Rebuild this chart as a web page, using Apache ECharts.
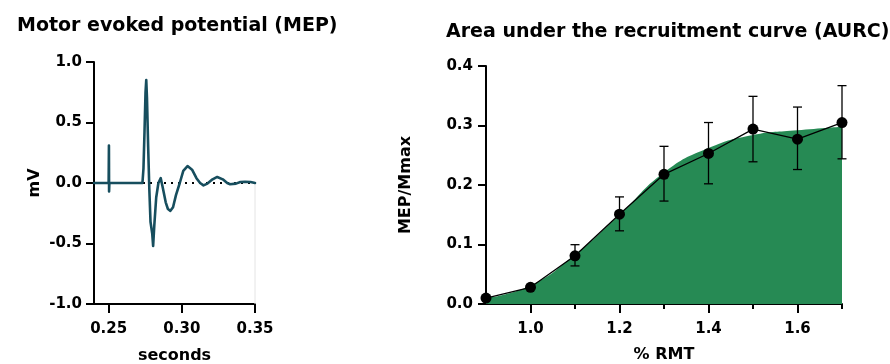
<!DOCTYPE html>
<html>
<head>
<meta charset="utf-8">
<script src="https://cdn.jsdelivr.net/npm/echarts@6/dist/echarts.min.js"></script>
<style>
html,body{margin:0;padding:0;background:#fff;}
#chart{width:890px;height:364px;}
</style>
</head>
<body>
<div id="chart"></div>
<script>
// ---- Left panel: MEP trace ----
const mepTime = [0.2400, 0.2500, 0.2502, 0.2503, 0.2505, 0.2600, 0.2731, 0.2738, 0.2745, 0.2752, 0.2757, 0.2762, 0.2770, 0.2778, 0.2786, 0.2793, 0.2798, 0.2804, 0.2812, 0.2825, 0.2840, 0.2856, 0.2870, 0.2890, 0.2905, 0.2922, 0.2940, 0.2960, 0.2986, 0.3010, 0.3039, 0.3070, 0.3100, 0.3125, 0.3148, 0.3175, 0.3210, 0.3242, 0.3280, 0.3310, 0.3330, 0.3370, 0.3400, 0.3432, 0.3470, 0.3500];
const mepVolt = [0.00, 0.00, 0.31, -0.07, 0.00, 0.00, 0.00, 0.12, 0.42, 0.75, 0.85, 0.70, 0.30, -0.05, -0.32, -0.33, -0.42, -0.52, -0.35, -0.12, 0.00, 0.04, -0.04, -0.16, -0.215, -0.23, -0.20, -0.10, 0.00, 0.10, 0.14, 0.11, 0.04, 0.00, -0.02, -0.005, 0.03, 0.05, 0.03, 0.00, -0.01, -0.005, 0.008, 0.01, 0.008, 0.00];
const mepXTicks = [0.25, 0.30, 0.35];

// ---- Right panel: recruitment curve ----
const rmt = [0.9, 1.0, 1.1, 1.2, 1.3, 1.4, 1.5, 1.6, 1.7];
const mepMean = [0.010, 0.028, 0.081, 0.151, 0.218, 0.253, 0.294, 0.277, 0.305];
const errLow = [0.010, 0.028, 0.064, 0.123, 0.173, 0.202, 0.239, 0.226, 0.244];
const errHigh = [0.010, 0.028, 0.0997, 0.180, 0.265, 0.305, 0.349, 0.331, 0.367];
const fitCurve = [0.010, 0.031, 0.083, 0.150, 0.221, 0.262, 0.284, 0.292, 0.298];
const rmtLabelTicks = [1.0, 1.2, 1.4, 1.6];
const rmtMinorTicks = [1.1, 1.3, 1.5, 1.7];

const FONT = 'DejaVu Sans';
const labelStyle = {color:'#000', fontFamily:FONT, fontWeight:'bold', fontSize:15};
const nameStyle = {color:'#000', fontFamily:FONT, fontWeight:'bold', fontSize:16};
const axisLine = {show:true, onZero:false, lineStyle:{color:'#000', width:2}};

const chart = echarts.init(document.getElementById('chart'), null, {renderer:'canvas'});

const option = {
  animation:false,
  backgroundColor:'#fff',
  title:[
    {text:'Motor evoked potential (MEP)', left:12, top:12, textStyle:{color:'#000', fontFamily:FONT, fontWeight:'bold', fontSize:19}},
    {text:'Area under the recruitment curve (AURC)', left:441, top:18, textStyle:{color:'#000', fontFamily:FONT, fontWeight:'bold', fontSize:19}}
  ],
  grid:[
    {left:94, top:62, width:161, height:242, outerBoundsMode:'none', containLabel:false},
    {left:486, top:66, width:356, height:238, outerBoundsMode:'none', containLabel:false}
  ],
  xAxis:[
    {gridIndex:0, type:'value', min:0.24, max:0.35, position:'bottom',
     axisLine:axisLine,
     axisTick:{show:true, length:9, lineStyle:{color:'#000', width:2}, customValues:mepXTicks},
     axisLabel:Object.assign({margin:18, customValues:mepXTicks, formatter:v=>v.toFixed(2)}, labelStyle),
     splitLine:{show:false},
     name:'seconds', nameLocation:'middle', nameGap:44, nameTextStyle:nameStyle},
    {gridIndex:1, type:'value', min:0.9, max:1.7, position:'bottom',
     axisLine:axisLine,
     axisTick:{show:true, length:9, lineStyle:{color:'#000', width:2}, customValues:rmtLabelTicks},
     axisLabel:Object.assign({margin:18, customValues:rmtLabelTicks, formatter:v=>v.toFixed(1)}, labelStyle),
     splitLine:{show:false},
     name:'% RMT', nameLocation:'middle', nameGap:43, nameTextStyle:nameStyle},
    {gridIndex:1, type:'value', min:0.9, max:1.7, position:'bottom',
     axisLine:{show:false},
     axisTick:{show:true, length:5, lineStyle:{color:'#000', width:2}, customValues:rmtMinorTicks},
     axisLabel:{show:false},
     splitLine:{show:false}}
  ],
  yAxis:[
    {gridIndex:0, type:'value', min:-1, max:1, interval:0.5,
     axisLine:axisLine,
     axisTick:{show:true, length:8, lineStyle:{color:'#000', width:2}},
     axisLabel:Object.assign({margin:12, formatter:v=>v.toFixed(1)}, labelStyle),
     splitLine:{show:false},
     name:'mV', nameLocation:'middle', nameGap:51, nameRotate:90, nameTextStyle:nameStyle},
    {gridIndex:1, type:'value', min:0, max:0.4, interval:0.1,
     axisLine:axisLine,
     axisTick:{show:true, length:8, lineStyle:{color:'#000', width:2}},
     axisLabel:Object.assign({margin:13, formatter:v=>v.toFixed(1)}, labelStyle),
     splitLine:{show:false},
     name:'MEP/Mmax', nameLocation:'middle', nameGap:72, nameRotate:90, nameTextStyle:nameStyle}
  ],
  series:[
    // zero reference (dotted) and faint right border
    {type:'line', xAxisIndex:0, yAxisIndex:0, silent:true, symbol:'none', z:1,
     data:[[0.24,0],[0.35,0]],
     lineStyle:{color:'#000', width:2, type:[2,5]}},
    {type:'line', xAxisIndex:0, yAxisIndex:0, silent:true, symbol:'none', z:1,
     data:[[0.35,0],[0.35,-1]],
     lineStyle:{color:'#e4e4e4', width:1}},
    // MEP trace
    {type:'line', xAxisIndex:0, yAxisIndex:0, symbol:'none', z:3,
     data:mepTime.map((t,i)=>[t, mepVolt[i]]),
     lineStyle:{color:'#174e5e', width:2.6, join:'round', cap:'round'}},
    // AURC fill
    {type:'line', xAxisIndex:1, yAxisIndex:1, symbol:'none', smooth:0.5, z:1,
     data:rmt.map((x,i)=>[x, fitCurve[i]]),
     lineStyle:{width:0},
     areaStyle:{color:'#268a54', opacity:1}},
    // error bars
    {type:'custom', xAxisIndex:1, yAxisIndex:1, z:3,
     data:rmt.map((x,i)=>[x, errLow[i], errHigh[i]]),
     renderItem:function(params, api){
       const x = api.value(0);
       const lo = api.coord([x, api.value(1)]);
       const hi = api.coord([x, api.value(2)]);
       const w = 4.5;
       const st = {stroke:'#000', lineWidth:1.3};
       return {type:'group', children:[
         {type:'line', shape:{x1:lo[0], y1:lo[1], x2:hi[0], y2:hi[1]}, style:st},
         {type:'line', shape:{x1:hi[0]-w, y1:hi[1], x2:hi[0]+w, y2:hi[1]}, style:st},
         {type:'line', shape:{x1:lo[0]-w, y1:lo[1], x2:lo[0]+w, y2:lo[1]}, style:st}
       ]};
     }},
    // mean line and points
    {type:'line', xAxisIndex:1, yAxisIndex:1, z:4,
     data:rmt.map((x,i)=>[x, mepMean[i]]),
     symbol:'circle', symbolSize:11, showSymbol:true,
     itemStyle:{color:'#000'},
     lineStyle:{color:'#000', width:1.3}}
  ]
};
chart.setOption(option);
</script>
</body>
</html>
